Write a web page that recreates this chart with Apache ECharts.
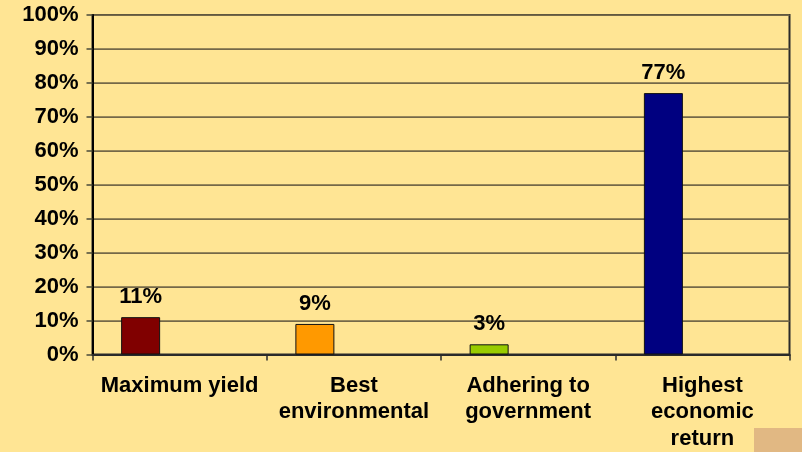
<!DOCTYPE html>
<html>
<head>
<meta charset="utf-8">
<script src="https://cdn.jsdelivr.net/npm/echarts@6/dist/echarts.min.js"></script>
<style>
  html, body { margin: 0; padding: 0; background: #FFE594; }
  #chart { width: 802px; height: 452px; }
</style>
</head>
<body>
<div id="chart"></div>
<script>
// Survey answers: main goal when choosing a practice
const categories = ['Maximum yield', 'Best\nenvironmental', 'Adhering to\ngovernment', 'Highest\neconomic\nreturn'];
const shares = [11, 9, 3, 77];          // percent of respondents
const yTicks = { min: 0, max: 100, step: 10 };

const barColors = ['#800000', '#FF9900', '#99CC00', '#000080'];
const font = '"Liberation Sans", Arial, sans-serif';

const chart = echarts.init(document.getElementById('chart'));
chart.setOption({
  backgroundColor: '#FFE594',
  animation: false,
  grid: {
    left: 92.5, right: 12.5, top: 15, bottom: 97,
    show: true, borderColor: '#2A2A2A', borderWidth: 2, backgroundColor: 'transparent'
  },
  xAxis: {
    type: 'category',
    data: categories,
    axisLine: { lineStyle: { color: '#2A2A2A', width: 2 } },
    axisTick: { show: true, length: 6, alignWithLabel: false, lineStyle: { color: '#2A2A2A', width: 1.5 } },
    axisLabel: {
      interval: 0, margin: 18, color: '#000',
      fontFamily: font, fontWeight: 'bold', fontSize: 22, lineHeight: 26.5
    }
  },
  yAxis: {
    type: 'value',
    min: yTicks.min, max: yTicks.max, interval: yTicks.step,
    axisLine: { show: true, lineStyle: { color: '#000', width: 2 } },
    axisTick: { show: true, length: 6, lineStyle: { color: '#4A4A3A', width: 1.5 } },
    axisLabel: {
      margin: 14, color: '#000',
      fontFamily: font, fontWeight: 'bold', fontSize: 22,
      formatter: v => v + '%'
    },
    splitLine: { lineStyle: { color: '#746848', width: 1.75 } }
  },
  series: [
    {
      name: 'share',
      type: 'bar',
      data: shares,
      barWidth: 39,
      barGap: '0%',
      itemStyle: {
        color: p => barColors[p.dataIndex],
        borderColor: '#111',
        borderWidth: 1
      },
      label: {
        show: true, position: 'top', distance: 9,
        color: '#000', fontFamily: font, fontWeight: 'bold', fontSize: 22,
        formatter: p => p.value + '%'
      }
    },
    // two empty slots keep each bar in the left third of its category
    { name: 'slot2', type: 'bar', data: [], barWidth: 39, barGap: '0%' },
    { name: 'slot3', type: 'bar', data: [], barWidth: 39, barGap: '0%' }
  ],
  graphic: [
    {
      type: 'rect', right: 0, bottom: 0,
      shape: { width: 48, height: 24 },
      style: { fill: '#E1B883' }
    }
  ]
});
</script>
</body>
</html>
